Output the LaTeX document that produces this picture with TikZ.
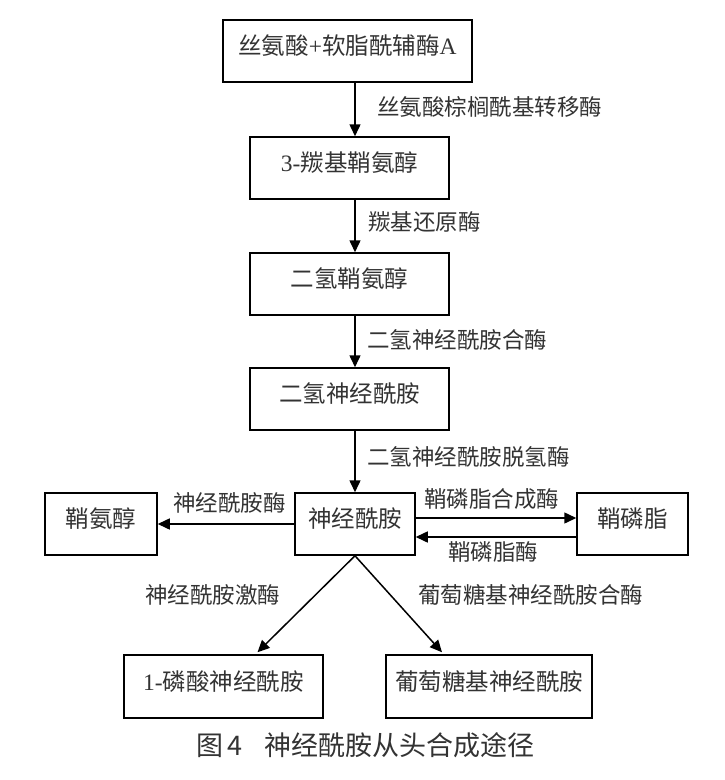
\documentclass[tikz,border=0pt]{standalone}
\usepackage{fontspec}
\setmainfont{Liberation Serif}
\newfontfamily\cjk{Noto Sans CJK SC}
\usetikzlibrary{arrows.meta,calc}

\tikzset{
  box/.style={draw, line width=1.5pt, inner sep=0pt, minimum height=62pt,
    text height=0.88em, text depth=0.12em,
    text=black!80, font=\cjk\fontsize{23.5}{23.5}\selectfont},
  lbl/.style={inner sep=0pt, anchor=west, text height=0.88em, text depth=0.12em,
    text=black!80, font=\cjk\fontsize{22.5}{22.5}\selectfont},
  arr/.style={line width=1.5pt, -{Triangle[length=12pt,width=11pt]}},
}

\begin{document}
\begin{tikzpicture}[x=1pt,y=-1pt]
\useasboundingbox[fill=white] (0,0) rectangle (724,780);
% main chain
\node[box, minimum width=249pt] (sa) at (347.5,51) {丝氨酸{\rmfamily +}软脂酰辅酶{\rmfamily A}};
\node[box, minimum width=199pt] (kds) at (349.5,168) {{\rmfamily 3-}羰基鞘氨醇};
\node[box, minimum width=199pt] (dhs) at (349.5,284) {二氢鞘氨醇};
\node[box, minimum width=199pt] (dhc) at (349.5,399) {二氢神经酰胺};
% middle row
\node[box, minimum width=120pt] (cer) at (355,524) {神经酰胺};
\node[box, minimum width=112pt] (sph) at (101,524) {鞘氨醇};
\node[box, minimum width=111pt] (sm) at (632.5,524) {鞘磷脂};
% bottom row
\node[box, minimum width=199pt, minimum height=63pt] (c1p) at (223.5,686.5) {{\rmfamily 1-}磷酸神经酰胺};
\node[box, minimum width=206pt, minimum height=63pt] (gc) at (489,686.5) {葡萄糖基神经酰胺};

\draw[arr] (sa.south -| cer) -- (kds.north -| cer);
\draw[arr] (kds.south -| cer) -- (dhs.north -| cer);
\draw[arr] (dhs.south -| cer) -- (dhc.north -| cer);
\draw[arr] (dhc.south -| cer) -- (cer.north);
\draw[arr] (cer.west) -- (sph.east);
\draw[arr] ($(cer.east)+(0,-6)$) -- ($(sm.west)+(0,-6)$);
\draw[arr] ($(sm.west)+(0,13)$) -- ($(cer.east)+(0,13)$);
\draw[arr] (cer.south) -- ($(c1p.north)+(34,-2)$);
\draw[arr] (cer.south) -- ($(gc.north)+(-47,-2)$);

% enzymes
\node[lbl] (e1) at (377,112) {丝氨酸棕榈酰基转移酶};
\node[lbl] (e2) at (368,227) {羰基还原酶};
\node[lbl] (e3) at (367,345) {二氢神经酰胺合酶};
\node[lbl] (e4) at (367,462) {二氢神经酰胺脱氢酶};
\node[lbl] (e5) at (173,508) {神经酰胺酶};
\node[lbl] (e6) at (424,504) {鞘磷脂合成酶};
\node[lbl] (e7) at (448,557) {鞘磷脂酶};
\node[lbl] (e8) at (145,600) {神经酰胺激酶};
\node[lbl] (e9) at (418,600) {葡萄糖基神经酰胺合酶};

\node[lbl, text=black!80, font=\cjk\fontsize{27}{27}\selectfont] (cap) at (196,752) {图\,4\hspace{22pt}神经酰胺从头合成途径};
\end{tikzpicture}
\end{document}
